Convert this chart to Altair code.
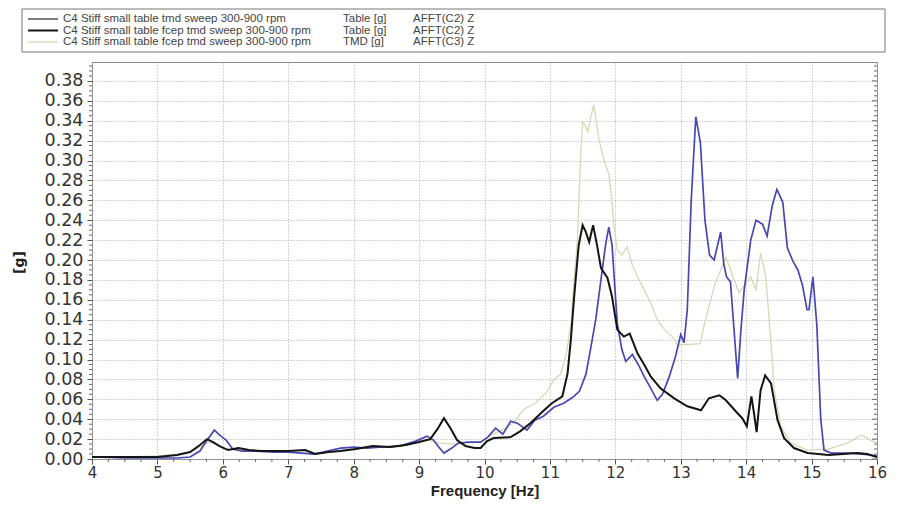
import altair as alt
import pandas as pd
import numpy as np

# ---------------- data ----------------
# Series 1: C4 Stiff small table tmd sweep 300-900 rpm, Table [g] (blue)
freq_tmd_sweep = [4.0, 4.5, 5.0, 5.3, 5.5, 5.65, 5.75, 5.87, 5.97, 6.05, 6.15, 6.3, 6.5, 6.8, 7.0,
                  7.2, 7.4, 7.6, 7.8, 8.0, 8.2, 8.4, 8.7, 8.95, 9.12, 9.22, 9.3, 9.38, 9.5, 9.6,
                  9.75, 9.94, 10.05, 10.17, 10.28, 10.4, 10.5, 10.65, 10.77, 10.9, 11.06, 11.21,
                  11.35, 11.45, 11.55, 11.62, 11.7, 11.78, 11.85, 11.9, 11.95, 11.99, 12.03, 12.1,
                  12.16, 12.26, 12.35, 12.44, 12.55, 12.64, 12.72, 12.82, 12.92, 13.0, 13.05, 13.1,
                  13.16, 13.23, 13.3, 13.37, 13.44, 13.51, 13.61, 13.66, 13.7, 13.76, 13.87, 13.92,
                  13.97, 14.07, 14.15, 14.25, 14.32, 14.4, 14.47, 14.56, 14.63, 14.72, 14.79, 14.86,
                  14.93, 14.96, 15.02, 15.08, 15.14, 15.19, 15.3, 15.6, 15.9, 16.0]
g_tmd_sweep = [0.002, 0.001, 0.001, 0.001, 0.002, 0.008, 0.018, 0.029, 0.023, 0.019, 0.010, 0.008,
               0.008, 0.007, 0.007, 0.006, 0.005, 0.008, 0.011, 0.012, 0.011, 0.012, 0.013, 0.018,
               0.023, 0.019, 0.012, 0.006, 0.011, 0.016, 0.017, 0.017, 0.022, 0.031, 0.025, 0.038,
               0.036, 0.029, 0.039, 0.043, 0.052, 0.056, 0.062, 0.068, 0.085, 0.110, 0.140, 0.180,
               0.215, 0.233, 0.215, 0.175, 0.136, 0.110, 0.098, 0.105, 0.095, 0.083, 0.070, 0.059,
               0.065, 0.082, 0.103, 0.125, 0.117, 0.150, 0.260, 0.344, 0.318, 0.240, 0.205, 0.200,
               0.228, 0.195, 0.183, 0.178, 0.081, 0.130, 0.170, 0.220, 0.240, 0.236, 0.224, 0.255,
               0.271, 0.258, 0.212, 0.198, 0.190, 0.175, 0.150, 0.150, 0.183, 0.135, 0.040, 0.009,
               0.006, 0.006, 0.004, 0.003]

# Series 2: C4 Stiff small table fcep tmd sweep 300-900 rpm, Table [g] (black)
freq_fcep_table = [4.0, 4.5, 5.0, 5.3, 5.5, 5.65, 5.76, 5.85, 5.95, 6.08, 6.24, 6.4, 6.6, 6.8, 7.0,
                   7.26, 7.41, 7.62, 7.8, 8.03, 8.29, 8.55, 8.8, 9.0, 9.17, 9.28, 9.38, 9.48, 9.58,
                   9.71, 9.85, 9.94, 10.04, 10.14, 10.4, 10.55, 10.7, 10.91, 11.03, 11.19, 11.27,
                   11.32, 11.37, 11.44, 11.5, 11.55, 11.6, 11.66, 11.72, 11.78, 11.88, 11.95, 12.03,
                   12.13, 12.22, 12.34, 12.44, 12.54, 12.69, 12.9, 13.1, 13.31, 13.43, 13.59, 13.69,
                   13.84, 13.94, 14.01, 14.08, 14.12, 14.16, 14.22, 14.29, 14.38, 14.48, 14.58,
                   14.73, 14.94, 15.26, 15.7, 15.85, 16.0]
g_fcep_table = [0.002, 0.002, 0.002, 0.004, 0.007, 0.014, 0.020, 0.017, 0.013, 0.009, 0.011, 0.009,
                0.008, 0.008, 0.008, 0.009, 0.005, 0.007, 0.008, 0.010, 0.013, 0.012, 0.014, 0.017,
                0.020, 0.030, 0.041, 0.031, 0.019, 0.013, 0.011, 0.011, 0.018, 0.021, 0.022, 0.028,
                0.036, 0.049, 0.056, 0.063, 0.086, 0.120, 0.163, 0.215, 0.235, 0.228, 0.218, 0.235,
                0.215, 0.192, 0.182, 0.163, 0.130, 0.123, 0.126, 0.106, 0.095, 0.083, 0.071, 0.061,
                0.053, 0.049, 0.061, 0.064, 0.059, 0.048, 0.041, 0.033, 0.063, 0.046, 0.027, 0.069,
                0.084, 0.076, 0.039, 0.021, 0.011, 0.006, 0.004, 0.006, 0.005, 0.002]

# Series 3: C4 Stiff small table fcep tmd sweep 300-900 rpm, TMD [g] (light)
freq_fcep_tmd = [4.0, 4.5, 5.0, 5.3, 5.5, 5.65, 5.78, 5.9, 6.0, 6.2, 6.5, 7.0, 7.3, 7.5, 7.8, 8.0,
                 8.3, 8.6, 8.9, 9.1, 9.3, 9.5, 9.7, 9.94, 10.1, 10.3, 10.45, 10.6, 10.78, 10.96,
                 11.06, 11.16, 11.25, 11.32, 11.37, 11.42, 11.47, 11.5, 11.54, 11.58, 11.63, 11.67,
                 11.72, 11.75, 11.83, 11.9, 11.94, 11.98, 12.03, 12.1, 12.18, 12.26, 12.34, 12.44,
                 12.54, 12.64, 12.75, 12.87, 12.95, 13.1, 13.3, 13.36, 13.43, 13.52, 13.61, 13.69,
                 13.79, 13.89, 13.99, 14.07, 14.15, 14.22, 14.3, 14.38, 14.43, 14.53, 14.68, 14.94,
                 15.25, 15.55, 15.76, 15.9, 16.0]
g_fcep_tmd = [0.002, 0.002, 0.003, 0.005, 0.007, 0.012, 0.017, 0.015, 0.011, 0.009, 0.008, 0.007,
              0.006, 0.006, 0.009, 0.010, 0.012, 0.012, 0.016, 0.020, 0.016, 0.015, 0.016, 0.017,
              0.024, 0.030, 0.037, 0.050, 0.056, 0.068, 0.080, 0.085, 0.105, 0.136, 0.180, 0.220,
              0.304, 0.339, 0.335, 0.329, 0.345, 0.356, 0.335, 0.321, 0.299, 0.287, 0.265, 0.234,
              0.210, 0.205, 0.213, 0.195, 0.183, 0.170, 0.157, 0.140, 0.130, 0.123, 0.115, 0.115,
              0.116, 0.135, 0.153, 0.175, 0.190, 0.203, 0.185, 0.167, 0.176, 0.183, 0.170, 0.207,
              0.183, 0.116, 0.069, 0.033, 0.016, 0.009, 0.010, 0.016, 0.024, 0.019, 0.016]

series_keys = ["tmd_table", "fcep_table", "fcep_tmd"]
legend_names = ["C4 Stiff small table tmd sweep 300-900 rpm",
                "C4 Stiff small table fcep tmd sweep 300-900 rpm",
                "C4 Stiff small table fcep tmd sweep 300-900 rpm"]
legend_units = ["Table [g]", "Table [g]", "TMD [g]"]
legend_channels = ["AFFT(C2) Z", "AFFT(C2) Z", "AFFT(C3) Z"]

x_ticks = [4, 5, 6, 7, 8, 9, 10, 11, 12, 13, 14, 15, 16]
y_ticks = [0.00, 0.02, 0.04, 0.06, 0.08, 0.10, 0.12, 0.14, 0.16, 0.18, 0.20,
           0.22, 0.24, 0.26, 0.28, 0.30, 0.32, 0.34, 0.36, 0.38]

# ---------------- styling ----------------
series_colors = {"tmd_table": "#4848b2", "fcep_table": "#141414", "fcep_tmd": "#d2dbb6"}
series_widths = {"tmd_table": 1.7, "fcep_table": 2.0, "fcep_tmd": 1.3}
draw_order = ["fcep_tmd", "tmd_table", "fcep_table"]

W, H = 785, 397
xs = alt.Scale(domain=[4, 16], nice=False, zero=False)
ys = alt.Scale(domain=[0, 0.399], nice=False, zero=True)

frames = []
for k, f, g in [("tmd_table", freq_tmd_sweep, g_tmd_sweep),
                ("fcep_table", freq_fcep_table, g_fcep_table),
                ("fcep_tmd", freq_fcep_tmd, g_fcep_tmd)]:
    frames.append(pd.DataFrame({"key": k, "freq": f, "g": g}))
df = pd.concat(frames, ignore_index=True)

x_axis = alt.Axis(values=x_ticks, format="d", title="Frequency [Hz]", grid=True,
                  gridDash=[1, 2], gridColor="#a8a8a8", gridWidth=1,
                  tickSize=5, tickColor="#555", domain=False, labelFlush=False,
                  labelOverlap=False,
                  labelFont="DejaVu Sans", labelFontSize=15, labelColor="#333", labelPadding=1,
                  titleFont="Liberation Sans", titleFontSize=15, titleFontWeight="bold",
                  titleColor="#222", titleY=36, titleBaseline="alphabetic")
y_axis = alt.Axis(values=y_ticks, format=".2f", title="[g]", grid=True,
                  gridDash=[1, 2], gridColor="#a8a8a8", gridWidth=1,
                  tickSize=5, tickColor="#555", domain=False, labelOverlap=False,
                  labelFont="DejaVu Sans", labelFontSize=17.5, labelColor="#333", labelPadding=4,
                  titleFont="DejaVu Sans", titleFontSize=14, titleFontWeight="bold",
                  titleColor="#222", titleX=-66, titleY=200, titleAngle=270)

XE = alt.X("freq:Q", scale=xs, axis=x_axis)
YE = alt.Y("g:Q", scale=ys, axis=y_axis)

main_layers = []
for k in draw_order:
    main_layers.append(
        alt.Chart(df).transform_filter(alt.datum.key == k)
        .mark_line(color=series_colors[k], strokeWidth=series_widths[k], clip=True)
        .encode(x=XE, y=YE)
    )

# minor ticks
minor_y = [v for v in np.round(np.arange(0, 0.3951, 0.005), 3) if round(v / 0.02, 6) % 1 != 0]
minor_x = [v for v in np.arange(4, 16.001, 0.25) if v % 1 != 0]
my_df = pd.DataFrame({"freq": 4.0, "g": minor_y})
major_df = pd.DataFrame({"freq": 4.0, "g": y_ticks})
mx_df = pd.DataFrame({"freq": minor_x, "g": 0.0})
tick_layers = [
    alt.Chart(my_df).mark_rule(color="#666", strokeWidth=1).encode(
        y=YE, x=alt.value(-3), x2=alt.value(0)),
    alt.Chart(my_df).mark_rule(color="#666", strokeWidth=1).encode(
        y=YE, x=alt.value(W - 3), x2=alt.value(W)),
    alt.Chart(major_df).mark_rule(color="#666", strokeWidth=1).encode(
        y=YE, x=alt.value(W - 5), x2=alt.value(W)),
    alt.Chart(mx_df).mark_rule(color="#666", strokeWidth=1).encode(
        x=XE, y=alt.value(H), y2=alt.value(H + 3)),
]

main = alt.layer(*(main_layers + tick_layers))

# legend box
leg_df = pd.DataFrame({"row": [0, 1, 2], "key": series_keys, "name": legend_names,
                       "unit": legend_units, "chan": legend_channels})
ly = alt.Y("row:Q", scale=alt.Scale(domain=[0, 2], range=[-43, -20]), axis=None)
box = alt.Chart(pd.DataFrame({"b": [0]})).mark_rect(fill="white", stroke="#777", strokeWidth=1).encode(
    x=alt.value(-70), x2=alt.value(793), y=alt.value(-53), y2=alt.value(-10))
leg_layers = [box]
for k in series_keys:
    leg_layers.append(
        alt.Chart(leg_df).transform_filter(alt.datum.key == k)
        .mark_rule(color=series_colors[k] if k != "tmd_table" else "#666",
                   strokeWidth=series_widths[k])
        .encode(x=alt.value(-64), x2=alt.value(-34), y=ly))
text_style = dict(align="left", baseline="middle", font="Liberation Sans", fontSize=11.5, color="#444")
leg_layers.append(alt.Chart(leg_df).mark_text(**text_style).encode(x=alt.value(-29), y=ly, text="name:N"))
leg_layers.append(alt.Chart(leg_df).mark_text(**text_style).encode(x=alt.value(251), y=ly, text="unit:N"))
leg_layers.append(alt.Chart(leg_df).mark_text(**text_style).encode(x=alt.value(321), y=ly, text="chan:N"))
legend = alt.layer(*leg_layers)

chart = (
    alt.layer(main, legend)
    .resolve_scale(y="independent")
    .properties(width=W, height=H,
                padding={"left": 84, "top": 54, "right": 11, "bottom": 40},
                autosize=alt.AutoSizeParams(type="none"),
                background="white")
    .configure_view(stroke="#888", strokeWidth=1)
    .configure_axis(labelOverlap=False)
)

chart.save("out.html", embed_options={"renderer": "svg", "actions": False})
